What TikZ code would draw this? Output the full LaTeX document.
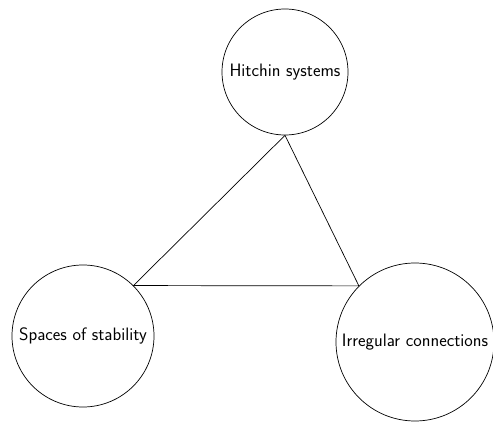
\documentclass[tikz,border=0pt]{standalone}
\begin{document}
\begin{tikzpicture}[x=1pt,y=-1pt,
  every node/.style={font=\sffamily\fontsize{18}{21}\selectfont},
  topic/.style={circle,draw,line width=0.7pt,inner sep=0pt},
  link/.style={line width=0.7pt}]
\useasboundingbox (0,0) rectangle (493,422);
\node[topic,minimum size=126pt] (hit) at (285,72) {Hitchin systems};
\node[topic,minimum size=142pt] (sta) at (83,336) {Spaces of stability};
\node[topic,minimum size=158pt] (irr) at (415,342) {Irregular connections};
\draw[link] (hit.south) -- (sta.north east) -- (irr.north west) -- (hit.south);
\end{tikzpicture}
\end{document}
